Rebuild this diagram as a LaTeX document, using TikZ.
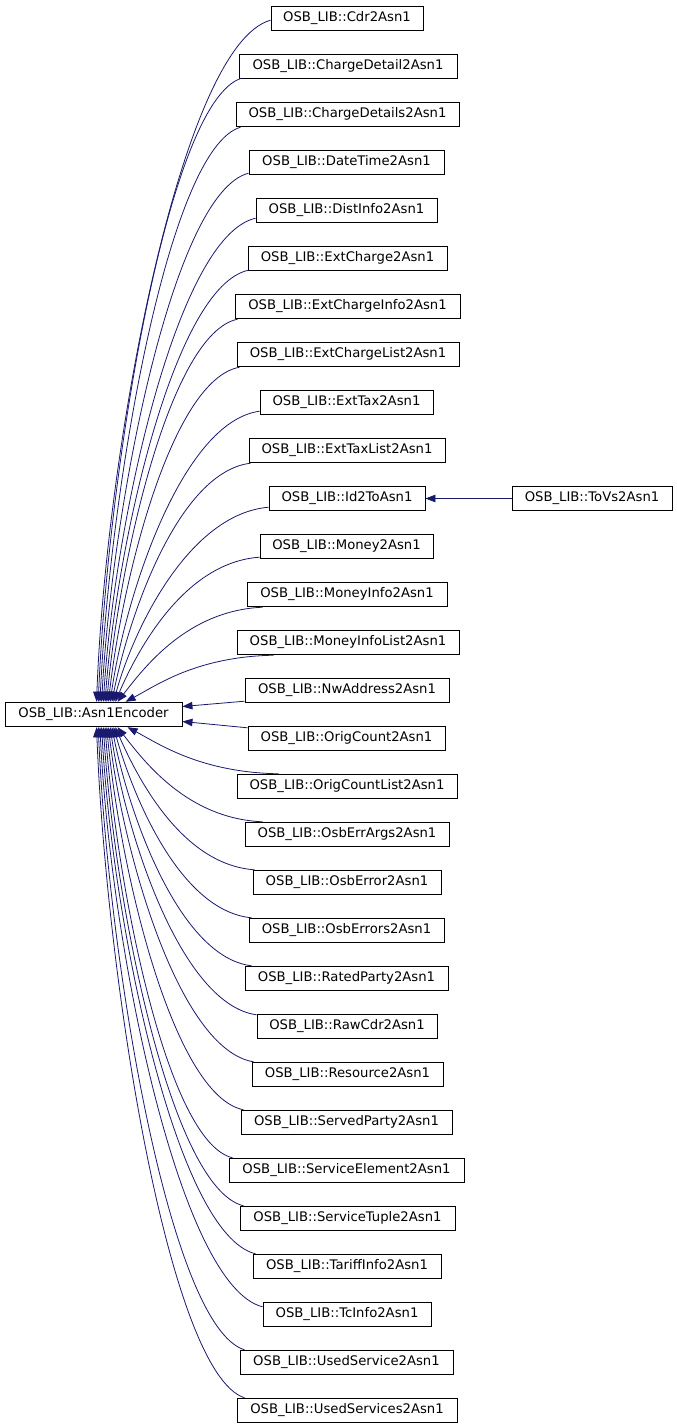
\documentclass[tikz,border=0pt]{standalone}
\usepackage{fontspec}
\setmainfont{DejaVu Sans}
\usetikzlibrary{arrows.meta,calc}
\definecolor{edgeblue}{RGB}{25,25,112}
\begin{document}
\begin{tikzpicture}[x=1pt,y=-1pt,
  cls/.style={draw=black,line width=0.9pt,fill=white,minimum height=24.5pt,inner sep=0pt,
    font=\fontsize{13.2}{15}\selectfont,anchor=center},
  inh/.style={draw=edgeblue,line width=0.8pt,-{Triangle[length=10pt,width=7.5pt]}}]
\useasboundingbox[fill=white] (0,0) rectangle (677,1427);
% base class
\node[cls,minimum width=177pt] (enc) at (93.5,714.5) {OSB\_LIB::Asn1Encoder};
% derived classes
\foreach \i/\l/\r/\nm in {
  0/271/423/Cdr2Asn1, 1/239/457/ChargeDetail2Asn1, 2/236/459/ChargeDetails2Asn1,
  3/249/444/DateTime2Asn1, 4/256/437/DistInfo2Asn1, 5/248/447/ExtCharge2Asn1,
  6/235/460/ExtChargeInfo2Asn1, 7/237/459/ExtChargeList2Asn1, 8/260/433/ExtTax2Asn1,
  9/249/445/ExtTaxList2Asn1, 10/269/425/Id2ToAsn1, 11/260/433/Money2Asn1,
  12/247/447/MoneyInfo2Asn1, 13/237/459/MoneyInfoList2Asn1, 14/245/449/NwAddress2Asn1,
  15/248/445/OrigCount2Asn1, 16/237/457/OrigCountList2Asn1, 17/245/449/OsbErrArgs2Asn1,
  18/253/441/OsbError2Asn1, 19/249/444/OsbErrors2Asn1, 20/245/448/RatedParty2Asn1,
  21/257/437/RawCdr2Asn1, 22/252/443/Resource2Asn1, 23/241/452/ServedParty2Asn1,
  24/229/464/ServiceElement2Asn1, 25/240/455/ServiceTuple2Asn1, 26/253/441/TariffInfo2Asn1,
  27/263/431/TcInfo2Asn1, 28/240/453/UsedService2Asn1, 29/237/457/UsedServices2Asn1}
{
  \node[cls,minimum width={\r-\l}] (n\i) at ({(\l+\r)/2},{18.5+48*\i}) {OSB\_LIB::\nm};
}
\node[cls,minimum width=160pt] (tovs) at (592,498.5) {OSB\_LIB::ToVs2Asn1};
% edges from classes above the base class
\foreach \i/\l/\sx/\sy/\ex in {
  0/271/0/-11/97, 1/239/3/-1/98.7, 2/236/5/0/100.4, 3/249/0/-2/102.1, 4/256/0/-5/103.8,
  5/248/1/-1/105.5, 6/235/3/0/107.2, 7/237/3/0/108.9, 8/260/0/-4/110.6, 9/249/2/0/112.3,
  10/269/0/-4/114, 11/260/0/-2/115.7, 12/247/16/0/118, 13/237/37/0/126}
{
  \pgfmathsetmacro\Sx{\l+\sx}
  \pgfmathsetmacro\Sy{31+48*\i+\sy}
  \pgfmathsetmacro\D{702-\Sy}
  \pgfmathsetmacro\W{\Sx-\ex}
  \pgfmathsetmacro\Pax{\Sx-0.52*\W}
  \pgfmathsetmacro\Pay{\Sy+0.037*\D}
  \pgfmathsetmacro\Pbx{\ex+8+30*exp(-\D/200)}
  \pgfmathsetmacro\Pby{702-0.37*\D}
  \draw[inh] ($(n\i.south west)+(\sx,\sy)$) .. controls (\Pax,\Pay) and (\Pbx,\Pby) .. ($(enc.north west)+({\ex-5},0)$);
}
% edges from classes below the base class
\foreach \i/\l/\sx/\sy/\ex in {
  16/237/42/0/128, 17/245/18/0/118, 18/253/2/0/115.7, 19/249/3/0/114, 20/245/7/0/112.3,
  21/257/0/1/110.6, 22/252/2/0/108.9, 23/241/3/0/107.2, 24/229/4/0/105.5, 25/240/4/0/103.8,
  26/253/3/0/102.1, 27/263/0/5/100.4, 28/240/5/0/98.7, 29/237/8/0/97}
{
  \pgfmathsetmacro\Sx{\l+\sx}
  \pgfmathsetmacro\Sy{6+48*\i+\sy}
  \pgfmathsetmacro\D{\Sy-727}
  \pgfmathsetmacro\W{\Sx-\ex}
  \pgfmathsetmacro\Pax{\Sx-0.52*\W}
  \pgfmathsetmacro\Pay{\Sy-0.037*\D}
  \pgfmathsetmacro\Pbx{\ex+8+30*exp(-\D/200)}
  \pgfmathsetmacro\Pby{727+0.37*\D}
  \draw[inh] ($(n\i.north west)+(\sx,\sy)$) .. controls (\Pax,\Pay) and (\Pbx,\Pby) .. ($(enc.south west)+({\ex-5},0)$);
}
% nearly horizontal edges
\draw[inh] ($(n14.south west)+(0,-2)$) -- ($(enc.east)+(0,-8)$);
\draw[inh] ($(n15.north west)+(0,2)$) -- ($(enc.east)+(0,7)$);
\draw[inh] (tovs.west) -- (n10.east);
\end{tikzpicture}
\end{document}
